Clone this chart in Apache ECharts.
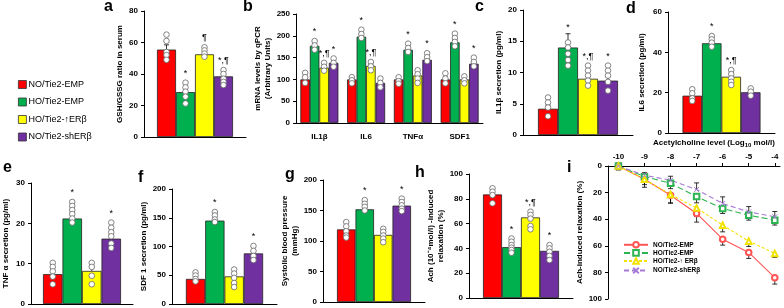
<!DOCTYPE html>
<html>
<head>
<meta charset="utf-8">
<script src="https://cdn.jsdelivr.net/npm/echarts@6/dist/echarts.min.js"></script>
<style>
html, body { margin: 0; padding: 0; background: #fff; }
#chart { width: 784px; height: 308px; }
</style>
</head>
<body>
<div id="chart"></div>
<script>
// groups shown in every panel
let groups = ['NO/Tie2-EMP', 'HO/Tie2-EMP', 'HO/Tie2-↑ERβ', 'NO/Tie2-shERβ']

// a - GSH/GSSG
let gshMean = [55.5, 28.5, 52.5, 38.5]
let gshErr = [3, 2.5, 1.5, 2]
let gshDots = [[65, 61, 54, 52, 49], [34.5, 31.5, 28.8, 25.6, 21.3], [57, 55, 53, 51], [42.5, 40, 37, 35, 33]]
let gshMarks = ['', '*', '¶', '*,¶']

// b - mRNA by qPCR, [group][gene]
let mrnaCats = ['IL1β', 'IL6', 'TNFα', 'SDF1']
let mrnaMean = [[100, 100, 100, 100], [177, 198, 168, 185], [127, 131, 109, 100], [138, 92, 145, 136]]
let mrnaErr = [[5, 3, 3, 5], [5, 5, 4, 5], [5, 4, 4, 4], [5, 5, 5, 5]]
let mrnaDots = [
    [[115, 105, 92], [105, 98, 91], [105, 96, 90], [114, 102, 91]],
    [[188, 178, 168], [214, 204, 195], [182, 172, 163], [205, 195, 186, 176]],
    [[138, 129, 120], [140, 130, 121], [121, 112, 102, 92], [107, 98, 91]],
    [[148, 138, 129], [102, 92, 82], [160, 151, 142], [150, 140, 130]]
]
let mrnaMarks = [['', '', '', ''], ['*', '*', '*', '*'], ['*,¶', '*,¶', '', ''], ['*', '', '*', '*']]

// c - IL1β secretion
let il1bMean = [4.2, 14.0, 9.0, 8.7]
let il1bErr = [0.6, 2.2, 0.6, 0.7]
let il1bDots = [[6, 5.2, 4.4, 3], [14.8, 14, 13, 12, 11.1], [11.1, 10.3, 9.5, 8.7, 7.9], [11.1, 10.3, 9.5, 8.5, 7.1]]
let il1bMarks = ['', '*', '*,¶', '*']

// d - IL6 secretion
let il6Mean = [18.5, 44.5, 27.9, 20.2]
let il6Err = [1, 1.2, 1.2, 0.8]
let il6Dots = [[21.7, 19.7, 17.2, 15.9], [48.1, 46.4, 44.8, 42.8], [31.2, 29.2, 27.1, 25.4, 23.8], [22.1, 20.5, 18.5]]
let il6Marks = ['', '*', '*,¶', '']

// e - TNFα secretion
let tnfMean = [7.4, 21.2, 8.2, 16.2]
let tnfErr = [1, 0.8, 1, 1]
let tnfDots = [[10.2, 9.2, 8.1, 6.8, 4.9], [25.3, 24.3, 23.3, 22.3, 21.2, 20.2], [10.2, 9.2, 7, 4.9], [20.2, 18.9, 17.8, 16.8, 15, 13.9]]
let tnfMarks = ['', '*', '', '*']

// f - SDF1 secretion
let sdfMean = [43.6, 145, 48, 88]
let sdfErr = [3, 3, 5, 4]
let sdfDots = [[55, 49.5, 43.6, 39.4], [160, 154, 147, 142.5], [60, 53, 45.4, 36.5, 29.5], [101, 92.4, 83.6, 76.5]]
let sdfMarks = ['', '*', '', '*']

// g - systolic blood pressure
let sbpMean = [119, 152, 110, 158]
let sbpErr = [4, 3, 3, 3]
let sbpDots = [[131, 124, 116, 109, 105.6], [167, 161, 156, 150], [120, 115, 109, 104, 98], [169.5, 164, 158.5, 153, 149]]
let sbpMarks = ['', '*', '', '*']

// h - Ach induced relaxation
let achMean = [83.5, 41, 65, 38]
let achErr = [2.5, 2, 3, 2]
let achDots = [[88.5, 85.7, 83, 76.4], [48, 45.4, 42.7, 40.6, 38.7, 36.5], [69.6, 67, 64, 58, 55.4], [42.7, 40, 37.3, 33.9, 30.6]]
let achMarks = ['', '*', '*,¶', '*']

// i - dose response
let logConc = [-10, -9, -8, -7, -6, -5, -4]
let lineNames = ['NO/Tie2-EMP', 'HO/Tie2-EMP', 'HO/Tie2-↑ ERβ', 'NO/Tie2-shERβ']
let relaxNo = [0, 10, 22, 35.7, 55, 65, 84]
let relaxHo = [0, 8, 13, 23, 32, 37, 40.7]
let relaxUp = [0, 10, 21.5, 31.5, 44.5, 56.5, 65.7]
let relaxSh = [0, 7, 10.7, 17.7, 28.2, 34.5, 38.2]
let errNo = [3, 4, 5.7, 6.5, 4.5, 4.5, 4.8]
let errHo = [2, 3, 4, 4.7, 3.7, 3.7, 3.7]
let errUp = [2, 6, 6.5, 6.5, 5, 4, 3]
let errSh = [-2, -2, -3, -5, -5, -4, -4]

let barColors = ['#ff0000', '#00b04f', '#ffff00', '#7030a0']
let lineColors = ['#ff5555', '#2db451', '#f2e200', '#a67ad6']
let font = 'Liberation Sans, Arial, sans-serif'

let wrap = arr => arr.map(v => [v])

let panels = [
    {grid: {left: 144, top: 11, width: 102, height: 126}, cats: [''], mean: wrap(gshMean), err: wrap(gshErr), dots: wrap(gshDots), marks: wrap(gshMarks), max: 80, interval: 20, barW: 19, name: 'GSH/GSSG ratio in serum', gap: 18},
    {grid: {left: 296, top: 14, width: 187, height: 109}, cats: mrnaCats, mean: mrnaMean, err: mrnaErr, dots: mrnaDots, marks: mrnaMarks, max: 250, interval: 50, barW: 9.5, name: 'mRNA levels by qPCR\n(Arbitrary Units)', gap: 20},
    {grid: {left: 523, top: 10, width: 110, height: 125}, cats: [''], mean: wrap(il1bMean), err: wrap(il1bErr), dots: wrap(il1bDots), marks: wrap(il1bMarks), max: 20, interval: 5, barW: 20, name: 'IL1β secretion (pg/ml)', gap: 12},
    {grid: {left: 668, top: 12, width: 107, height: 121}, cats: [''], mean: wrap(il6Mean), err: wrap(il6Err), dots: wrap(il6Dots), marks: wrap(il6Marks), max: 60, interval: 20, barW: 19.5, name: 'IL6 secretion (pg/ml)', gap: 21},
    {grid: {left: 31, top: 183, width: 102, height: 121}, cats: [''], mean: wrap(tnfMean), err: wrap(tnfErr), dots: wrap(tnfDots), marks: wrap(tnfMarks), max: 30, interval: 10, barW: 19.5, name: 'TNF α secretion (pg/ml)', gap: 20},
    {grid: {left: 172, top: 189, width: 105, height: 115}, cats: [''], mean: wrap(sdfMean), err: wrap(sdfErr), dots: wrap(sdfDots), marks: wrap(sdfMarks), max: 200, interval: 50, barW: 19.3, name: 'SDF 1 secretion (pg/ml)', gap: 21},
    {grid: {left: 323, top: 180, width: 102, height: 122}, cats: [''], mean: wrap(sbpMean), err: wrap(sbpErr), dots: wrap(sbpDots), marks: wrap(sbpMarks), max: 200, interval: 50, barW: 18.5, name: 'Systolic blood pressure\n(mmHg)', gap: 22},
    {grid: {left: 469, top: 174, width: 104, height: 124}, cats: [''], mean: wrap(achMean), err: wrap(achErr), dots: wrap(achDots), marks: wrap(achMarks), max: 100, interval: 20, barW: 19, name: 'Ach (10⁻⁴mol/l) -induced\nrelaxation (%)', gap: 22}
]

let labelStyle = {color: '#000', fontSize: 8, fontWeight: 'bold', fontFamily: font}
let grids = [], xAxes = [], yAxes = [], series = []

panels.forEach(function (p, k) {
    grids.push(p.grid)
    xAxes.push({
        gridIndex: k, type: 'category', data: p.cats,
        axisLine: {lineStyle: {color: '#000', width: 1}},
        axisTick: {show: false},
        axisLabel: Object.assign({show: p.cats.length > 1, margin: 10}, labelStyle)
    })
    yAxes.push({
        gridIndex: k, type: 'value', min: 0, max: p.max, interval: p.interval,
        name: p.name, nameLocation: 'middle', nameGap: p.gap,
        nameTextStyle: {color: '#000', fontSize: 8, fontWeight: 'bold', fontFamily: font, lineHeight: 10},
        axisLine: {show: true, lineStyle: {color: '#000', width: 1}},
        axisTick: {show: true, length: 3, lineStyle: {color: '#000'}},
        axisLabel: Object.assign({margin: 6}, labelStyle),
        splitLine: {show: false}
    })
    groups.forEach(function (g, gi) {
        series.push({
            type: 'bar', name: g, xAxisIndex: k, yAxisIndex: k,
            data: p.mean[gi], barWidth: p.barW, barGap: '0%',
            itemStyle: {color: barColors[gi], borderColor: '#222', borderWidth: 0.8},
            silent: true
        })
    })
    let deco = []
    p.cats.forEach(function (c, ci) {
        groups.forEach(function (g, gi) { deco.push([ci, gi]) })
    })
    series.push({
        type: 'custom', xAxisIndex: k, yAxisIndex: k, data: deco, silent: true, z: 5,
        renderItem: function (params, api) {
            let c = api.value(0), g = api.value(1)
            let m = p.mean[g][c], e = p.err[g][c], d = p.dots[g][c], mk = p.marks[g][c]
            let base = api.coord([c, m])
            let x = base[0] + (g - 1.5) * p.barW
            let yTop = api.coord([c, m + e])[1]
            let children = [
                {type: 'line', shape: {x1: x, y1: base[1], x2: x, y2: yTop}, style: {stroke: '#000', lineWidth: 0.8}},
                {type: 'line', shape: {x1: x - 2.5, y1: yTop, x2: x + 2.5, y2: yTop}, style: {stroke: '#000', lineWidth: 0.8}}
            ]
            let minY = yTop
            d.forEach(function (v) {
                let y = api.coord([c, v])[1]
                minY = Math.min(minY, y - 2.8)
                children.push({type: 'circle', shape: {cx: x, cy: y, r: 2.8}, style: {fill: '#fff', stroke: '#666', lineWidth: 0.8}})
            })
            if (mk) {
                children.push({type: 'text', style: {text: mk, x: x, y: minY - 2, align: 'center', verticalAlign: 'bottom', fill: '#000', font: '9px ' + font}})
            }
            return {type: 'group', children: children}
        }
    })
})

// panel i
let ki = panels.length
grids.push({left: 608, top: 166, width: 172, height: 133})
xAxes.push({
    gridIndex: ki, type: 'value', position: 'top', min: -10.4, max: -3.8,
    name: 'Acetylcholine level (Log{s|10} mol/l)', nameLocation: 'middle', nameGap: 18,
    nameTextStyle: {color: '#000', fontSize: 8, fontWeight: 'bold', fontFamily: font, padding: [0, 0, 0, 40], rich: {s: {fontSize: 6, fontWeight: 'bold', verticalAlign: 'bottom', padding: [4, 0, 0, 0]}}},
    axisLine: {lineStyle: {color: '#000'}},
    axisTick: {length: 3, customValues: logConc, lineStyle: {color: '#000'}},
    axisLabel: Object.assign({customValues: logConc, margin: 5}, labelStyle),
    splitLine: {show: false}
})
yAxes.push({
    gridIndex: ki, type: 'value', inverse: true, min: 0, max: 100, interval: 20,
    name: 'Ach-induced relaxation (%)', nameLocation: 'middle', nameGap: 24,
    nameTextStyle: {color: '#000', fontSize: 8, fontWeight: 'bold', fontFamily: font},
    axisLine: {show: true, lineStyle: {color: '#000'}},
    axisTick: {show: true, length: 3, lineStyle: {color: '#000'}},
    axisLabel: Object.assign({margin: 6}, labelStyle),
    splitLine: {show: false}
})
let relax = [relaxNo, relaxHo, relaxUp, relaxSh]
let relaxErr = [errNo, errHo, errUp, errSh]
let symbols = ['emptyCircle', 'emptyRect', 'emptyTriangle', 'path://M0,0L10,10M10,0L0,10']
let dashes = ['solid', [6, 3], [3, 2], [5, 3]]
relax.forEach(function (vals, gi) {
    let pts = logConc.map((x, j) => [x, vals[j]])
    series.push({
        type: 'line', name: 'i:' + lineNames[gi], xAxisIndex: ki, yAxisIndex: ki, data: pts,
        symbol: symbols[gi], symbolSize: gi === 3 ? 5 : 5.5,
        lineStyle: {color: lineColors[gi], width: 1.1, type: dashes[gi]},
        itemStyle: {color: gi === 3 ? 'none' : lineColors[gi], borderColor: lineColors[gi], borderWidth: 1},
        z: 4, silent: true
    })
    series.push({
        type: 'custom', xAxisIndex: ki, yAxisIndex: ki, silent: true, z: 3,
        data: logConc.map((x, j) => [x, vals[j], relaxErr[gi][j]]),
        renderItem: function (params, api) {
            let a = api.coord([api.value(0), api.value(1)])
            let b = api.coord([api.value(0), api.value(1) + api.value(2)])
            return {type: 'group', children: [
                {type: 'line', shape: {x1: a[0], y1: a[1], x2: b[0], y2: b[1]}, style: {stroke: '#000', lineWidth: 0.8}},
                {type: 'line', shape: {x1: b[0] - 2.5, y1: b[1], x2: b[0] + 2.5, y2: b[1]}, style: {stroke: '#000', lineWidth: 0.8}}
            ]}
        }
    })
})

let letters = [['a', 104, 15], ['b', 243, 15], ['c', 475, 15], ['d', 626, 17], ['e', 3, 176], ['f', 138, 186], ['g', 285, 183], ['h', 415, 181], ['i', 567, 176]]

let chart = echarts.init(document.getElementById('chart'))
chart.setOption({
    animation: false,
    backgroundColor: '#fff',
    grid: grids,
    xAxis: xAxes,
    yAxis: yAxes,
    legend: [{
        data: groups.map(n => ({name: n, icon: 'rect'})),
        orient: 'vertical', left: 13, top: 75, itemWidth: 8, itemHeight: 8, itemGap: 8.5,
        textStyle: {fontSize: 9, color: '#000', fontFamily: font, padding: [0, 0, 0, -3]},
        itemStyle: {borderColor: '#333', borderWidth: 0.8},
        selectedMode: false
    }, {
        data: lineNames.map(n => 'i:' + n),
        formatter: n => n.slice(2),
        orient: 'vertical', left: 618, top: 236, itemWidth: 24, itemHeight: 7, itemGap: 0.5,
        textStyle: {fontSize: 6.5, color: '#000', fontFamily: font, fontWeight: 'bold'},
        selectedMode: false
    }],
    graphic: letters.map(l => ({
        type: 'text', x: l[1], y: l[2],
        style: {text: l[0], font: 'bold 16px ' + font, fill: '#000', verticalAlign: 'bottom'}
    })),
    series: series
})
</script>
</body>
</html>
